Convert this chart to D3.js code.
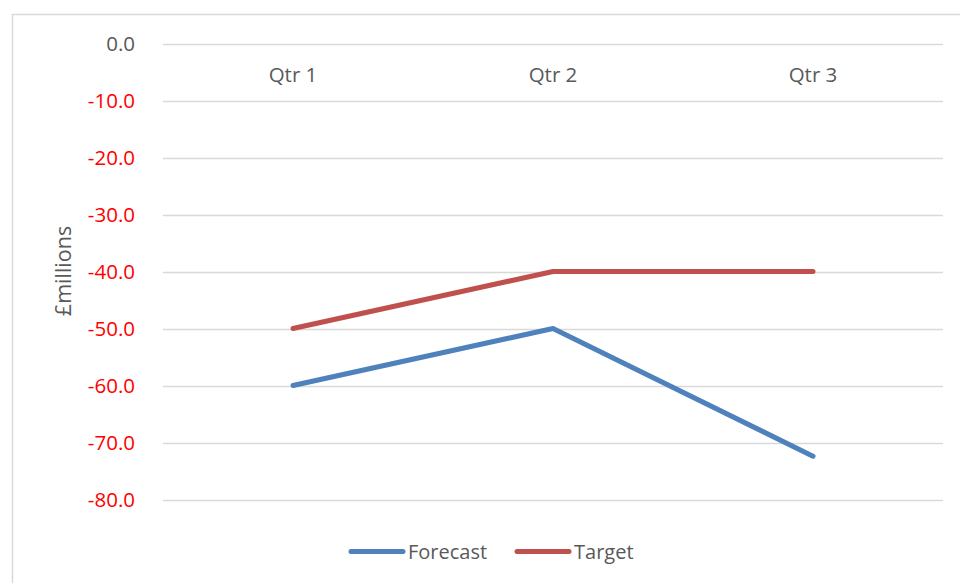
<!DOCTYPE html>
<html><head><meta charset="utf-8">
<script src="https://cdn.jsdelivr.net/npm/d3@7"></script>
<style>body{margin:0;background:#fff}svg{display:block}text{font-family:"Open Sans",sans-serif}</style>
</head><body><svg id="c" width="960" height="583"></svg>
<script>
const categories = ["Qtr 1", "Qtr 2", "Qtr 3"];
const forecast = [-60, -50, -72.4];
const target = [-50, -40, -40];
const yTicks = [0, -10, -20, -30, -40, -50, -60, -70, -80];
const seriesNames = ["Forecast", "Target"];

(function(){
const svg = d3.select("#c");
svg.append("rect").attr("x",12.5).attr("y",14.5).attr("width",960).attr("height",600)
  .attr("fill","#fff").attr("stroke","#d9d9d9").attr("stroke-width",1.5);

const pL = 163, pR = 943, pT = 43.5, pB = 499.5;
const x = d3.scalePoint().domain(categories).range([pL, pR]).padding(0.5);
const y = d3.scaleLinear().domain([-80, 0]).range([pB, pT]);

// gridlines
svg.append("g").selectAll("line").data(yTicks).join("line")
  .attr("x1", pL).attr("x2", pR)
  .attr("y1", d => Math.round(y(d)) + 0.5).attr("y2", d => Math.round(y(d)) + 0.5)
  .attr("stroke", "#d9d9d9").attr("stroke-width", 1.5);

// y tick labels
svg.append("g").selectAll("text").data(yTicks).join("text")
  .attr("x", 135).attr("y", d => y(d)).attr("dy", "0.36em")
  .attr("text-anchor", "end").attr("font-size", 20.5)
  .attr("fill", d => d < 0 ? "#ff0000" : "#595959")
  .text(d => d.toFixed(1));

// category labels
svg.append("g").selectAll("text").data(categories).join("text")
  .attr("x", d => x(d)).attr("y", 75).attr("dy", "0.36em")
  .attr("text-anchor", "middle").attr("font-size", 20.5).attr("fill", "#595959")
  .text(d => d);

// y axis title
svg.append("text").attr("transform", "translate(63,271) rotate(-90)")
  .attr("text-anchor", "middle").attr("dy", "0.36em")
  .attr("font-size", 21.5).attr("fill", "#595959").text("£millions");

const colors = ["#4f81bd", "#c0504d"];
const line = d3.line().x((d, i) => x(categories[i])).y(d => y(d));
[forecast, target].forEach((s, k) => {
  svg.append("path").datum(s).attr("d", line).attr("fill", "none")
    .attr("stroke", colors[k]).attr("stroke-width", 5)
    .attr("stroke-linecap", "round").attr("stroke-linejoin", "round");
});

// legend
const lg = svg.append("g");
const lx = [351, 517];
seriesNames.forEach((n, k) => {
  lg.append("line").attr("x1", lx[k]).attr("x2", lx[k] + 52).attr("y1", 551.5).attr("y2", 551.5)
    .attr("stroke", colors[k]).attr("stroke-width", 5).attr("stroke-linecap", "round");
  lg.append("text").attr("x", lx[k] + 57).attr("y", 552).attr("dy", "0.36em")
    .attr("font-size", 20).attr("fill", "#595959").text(n);
});
})();
</script></body></html>
